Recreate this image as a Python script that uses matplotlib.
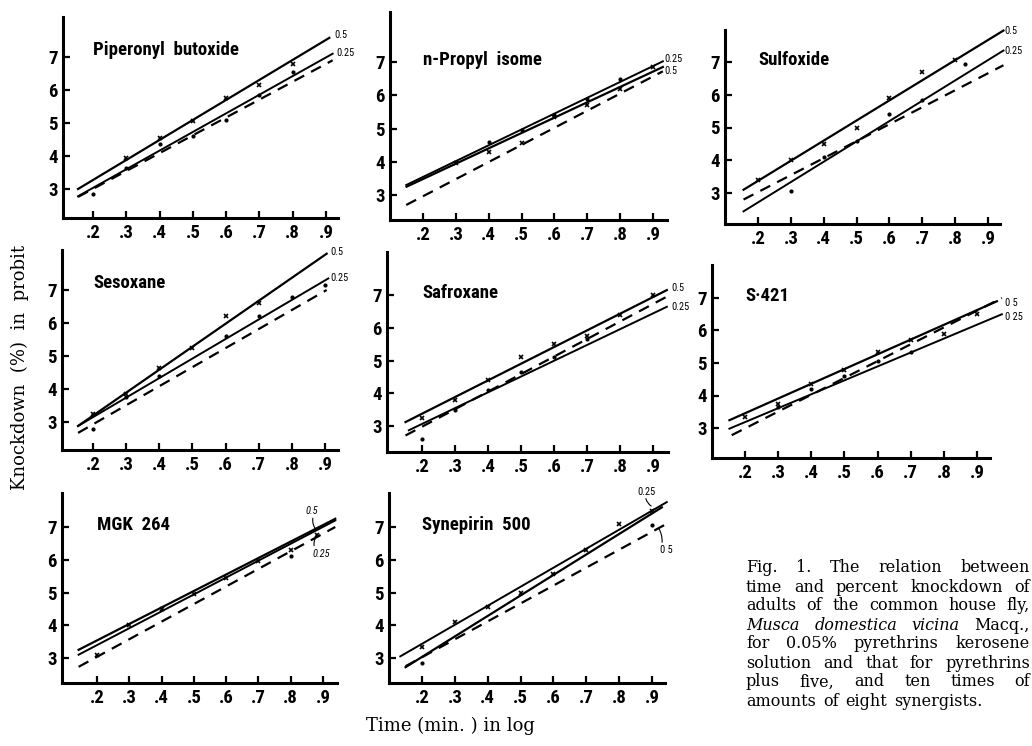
import matplotlib.pyplot as plt

# ---- data ---------------------------------------------------------------
titles = ["Piperonyl  butoxide", "n-Propyl  isome", "Sulfoxide",
          "Sesoxane", "Safroxane", "S·421",
          "MGK  264", "Synepirin  500"]

x_ticks = [0.2, 0.3, 0.4, 0.5, 0.6, 0.7, 0.8, 0.9]
x_tick_labels = [".2", ".3", ".4", ".5", ".6", ".7", ".8", ".9"]
y_ticks = [3, 4, 5, 6, 7]

# fitted lines: (x start, x end) and (y start, y end)
fit_05_x = [(0.155, 0.91), (0.15, 0.93), (0.156, 0.947), (0.155, 0.905),
            (0.15, 0.942), (0.153, 0.96), (0.143, 0.938), (0.15, 0.93)]
fit_05_y = [(3.0, 7.58), (3.25, 6.85), (3.1, 7.96), (2.88, 8.1),
            (3.12, 7.15), (3.24, 6.9), (3.25, 7.25), (2.72, 7.6)]
fit_025_x = [(0.155, 0.92), (0.149, 0.93), (0.156, 0.947), (0.155, 0.91),
             (0.16, 0.942), (0.153, 0.975), (0.143, 0.938), (0.134, 0.945)]
fit_025_y = [(2.78, 7.1), (3.3, 7.02), (2.44, 7.35), (2.88, 7.35),
             (2.87, 6.64), (2.98, 6.5), (3.1, 7.2), (3.05, 7.76)]
base_x = [(0.155, 0.92), (0.149, 0.93), (0.156, 0.947), (0.155, 0.905),
          (0.15, 0.942), (0.16, 0.975), (0.143, 0.938), (0.15, 0.945)]
base_y = [(2.76, 6.9), (2.7, 6.72), (2.8, 6.9), (2.67, 7.0),
          (2.71, 6.95), (2.78, 7.0), (2.73, 7.0), (2.75, 7.1)]

# observed points
pts_05_x = [[.3, .4, .5, .6, .7, .8],
            [.3, .4, .5, .6, .7, .8, .9],
            [.2, .3, .4, .5, .6, .7, .8],
            [.2, .3, .4, .5, .6, .7],
            [.2, .3, .4, .5, .6, .7, .8, .9],
            [.2, .3, .4, .5, .6, .7, .8, .9],
            [.2, .3, .4, .5, .6, .7, .8, .88],
            [.2, .3, .4, .5, .6, .7, .8, .9]]
pts_05_y = [[3.95, 4.55, 5.05, 5.75, 6.15, 6.8],
            [3.97, 4.3, 4.56, 5.36, 5.7, 6.18, 6.85],
            [3.4, 4.0, 4.5, 5.0, 5.9, 6.7, 7.05],
            [3.25, 3.85, 4.65, 5.25, 6.2, 6.6],
            [3.25, 3.8, 4.4, 5.1, 5.5, 5.75, 6.4, 7.0],
            [3.35, 3.75, 4.35, 4.8, 5.35, 5.7, 5.9, 6.5],
            [3.1, 4.0, 4.5, 4.95, 5.45, 5.95, 6.3, 6.75],
            [3.35, 4.1, 4.55, 5.0, 5.55, 6.3, 7.1, 7.5]]
pts_025_x = [[.2, .3, .4, .5, .6, .7, .8],
             [.4, .5, .6, .7, .8],
             [.3, .4, .5, .6, .7, .83],
             [.2, .3, .4, .6, .7, .8, .9],
             [.2, .3, .4, .5, .6, .7],
             [.3, .4, .5, .6, .7],
             [.8],
             [.2, .9]]
pts_025_y = [[2.85, 3.65, 4.35, 4.6, 5.1, 5.85, 6.55],
             [4.6, 4.95, 5.4, 5.9, 6.5],
             [3.05, 4.1, 4.6, 5.4, 5.85, 6.95],
             [2.8, 3.75, 4.4, 5.6, 6.2, 6.8, 7.15],
             [2.6, 3.5, 4.1, 4.65, 5.1, 5.65],
             [3.65, 4.2, 4.6, 5.05, 5.35],
             [6.1],
             [2.85, 7.05]]

# series labels (text, x, y)
label_05 = [("0.5", 0.925, 7.68), ("0.5", 0.935, 6.72), ("0.5", 0.95, 7.96),
            ("0.5", 0.915, 8.16), ("0.5", 0.955, 7.2), ("0 5", 0.985, 6.85),
            ("0.5", 0.845, 7.5), ("0 5", 0.925, 6.3)]
label_025 = [("0.25", 0.93, 7.12), ("0.25", 0.935, 7.1), ("0.25", 0.95, 7.35),
             ("0.25", 0.915, 7.35), ("0.25", 0.955, 6.64), ("0 25", 0.985, 6.43),
             ("0.25", 0.866, 6.19), ("0.25", 0.854, 8.06)]

caption = [
    [("Fig.", "n"), ("1.", "n"), ("The", "n"), ("relation", "n"), ("between", "n")],
    [("time", "n"), ("and", "n"), ("percent", "n"), ("knockdown", "n"), ("of", "n")],
    [("adults", "n"), ("of", "n"), ("the", "n"), ("common", "n"), ("house", "n"), ("fly,", "n")],
    [("Musca", "i"), ("domestica", "i"), ("vicina", "i"), ("Macq.,", "n")],
    [("for", "n"), ("0.05%", "n"), ("pyrethrins", "n"), ("kerosene", "n")],
    [("solution", "n"), ("and", "n"), ("that", "n"), ("for", "n"), ("pyrethrins", "n")],
    [("plus", "n"), ("five,", "n"), ("and", "n"), ("ten", "n"), ("times", "n"), ("of", "n")],
    [("amounts", "n"), ("of", "n"), ("eight", "n"), ("synergists.", "n")],
]

# ---- layout (pixels in a 1032x746 image) ---------------------------------
W, H = 1032, 746
# y-axis x, x-axis y, px of .2, px of .9, py of 7, py of 3, top, right end
frames = [(63, 218, 93, 326, 57, 189, 17, 338),
          (390, 220, 423, 653, 62, 195, 12, 667),
          (725, 224, 758, 988, 62, 193, 30, 1000),
          (62, 450, 93, 325, 290, 422, 250, 338),
          (387, 452, 422, 653, 295, 426, 252, 668),
          (712, 458, 745, 977, 298, 428, 265, 990),
          (62, 683, 97, 323, 527, 658, 493, 337),
          (389, 683, 422, 652, 527, 658, 493, 665)]

narrow = ['Roboto Condensed', 'Liberation Sans Narrow', 'Roboto', 'DejaVu Sans']
serif = ['DejaVu Serif']

fig = plt.figure(figsize=(10.32, 7.46), dpi=100)

for i, fr in enumerate(frames):
    yax, xax, p2, p9, p7, p3, top, right = fr
    ppx = (p9 - p2) / 0.7
    ppy = (p3 - p7) / 4.0
    ax = fig.add_axes([yax / W, 1 - xax / H, (right - yax) / W, (xax - top) / H])
    ax.set_xlim(0.2 - (p2 - yax) / ppx, 0.9 + (right - p9) / ppx)
    ax.set_ylim(3 - (xax - p3) / ppy, 7 + (p7 - top) / ppy)
    ax.patch.set_visible(False)
    for s in ["top", "right"]:
        ax.spines[s].set_visible(False)
    for s in ["left", "bottom"]:
        ax.spines[s].set_linewidth(2.2)
    ax.set_xticks(x_ticks)
    ax.set_xticklabels(x_tick_labels)
    ax.set_yticks(y_ticks)
    ax.tick_params(direction="in", length=5, width=1.6, pad=4)
    for lab in ax.get_xticklabels() + ax.get_yticklabels():
        lab.set_fontfamily(narrow)
        lab.set_fontweight("bold")
        lab.set_fontsize(13.5)

    ax.plot(fit_05_x[i], fit_05_y[i], color="black", lw=1.6, clip_on=False)
    ax.plot(fit_025_x[i], fit_025_y[i], color="black", lw=1.4, clip_on=False)
    ax.plot(base_x[i], base_y[i], color="black", lw=1.6, ls=(0, (5, 3.5)),
            clip_on=False)
    ax.plot(pts_05_x[i], pts_05_y[i], ls="none", marker="x", ms=3.5,
            mew=1.2, color="black", clip_on=False)
    ax.plot(pts_025_x[i], pts_025_y[i], ls="none", marker="o", ms=2,
            color="black", clip_on=False)

    ax.text(0.2, 7.2 if i in (0, 3) else 7.05, titles[i], fontfamily=narrow,
            fontweight="bold", fontsize=13.5, va="center", ha="left")

    for t, lx, ly in (label_05[i], label_025[i]):
        ax.text(lx, ly, t, fontsize=7.5, fontfamily=narrow, va="center",
                ha="left", style="italic" if i == 6 else "normal",
                clip_on=False)

    if i == 6:
        ax.annotate("", xy=(0.885, 6.85), xytext=(0.87, 7.35),
                    arrowprops=dict(arrowstyle="-", lw=0.8,
                                    connectionstyle="arc3,rad=0.3"))
        ax.annotate("", xy=(0.88, 6.7), xytext=(0.875, 6.35),
                    arrowprops=dict(arrowstyle="-", lw=0.8,
                                    connectionstyle="arc3,rad=-0.3"))
    if i == 7:
        ax.annotate("", xy=(0.905, 7.6), xytext=(0.88, 7.95),
                    arrowprops=dict(arrowstyle="-", lw=0.8,
                                    connectionstyle="arc3,rad=0.3"))
        ax.annotate("", xy=(0.915, 7.05), xytext=(0.93, 6.45),
                    arrowprops=dict(arrowstyle="-", lw=0.8,
                                    connectionstyle="arc3,rad=0.2"))

fig.text(20 / W, 1 - 367 / H, "Knockdown  (%)  in  probit", rotation=90,
         fontfamily=serif, fontsize=13, ha="center", va="center")
fig.text(450 / W, 1 - 726 / H, "Time (min. ) in log", fontfamily=serif,
         fontsize=13, ha="center", va="center")

# justified caption block
renderer = fig.canvas.get_renderer()
cap_left, cap_right = 746, 1030
cap_top, cap_step = 568, 19
for li, words in enumerate(caption):
    texts = []
    for w, st in words:
        t = fig.text(0, 0, w, fontfamily=serif, fontsize=11.5,
                     style="italic" if st == "i" else "normal",
                     va="center", ha="left")
        texts.append(t)
    widths = [t.get_window_extent(renderer).width for t in texts]
    if li == len(caption) - 1:
        gap = 7
    else:
        gap = max(4, (cap_right - cap_left - sum(widths)) / (len(texts) - 1))
    x = cap_left
    y = 1 - (cap_top + li * cap_step) / H
    for t, w in zip(texts, widths):
        t.set_position((x / W, y))
        x += w + gap

fig.savefig("out.png", dpi=100)
